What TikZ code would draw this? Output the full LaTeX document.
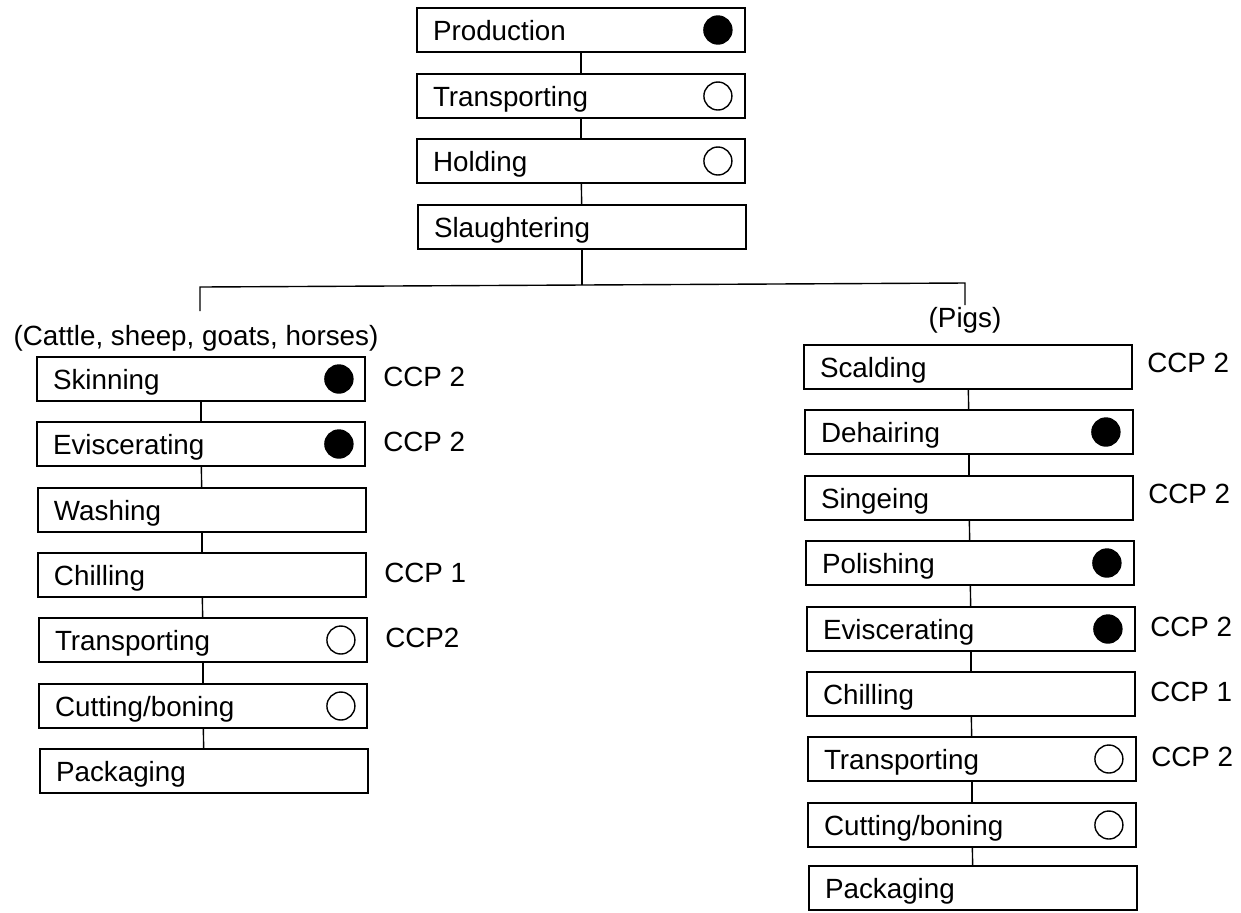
\documentclass[tikz,border=0pt]{standalone}
\usepackage{fontspec}
\setmainfont{Liberation Sans}
\usetikzlibrary{calc}
\begin{document}
\begin{tikzpicture}[x=0.5pt,y=-0.5pt,
  stepbox/.style={draw,line width=0.9pt,minimum height=22pt,inner xsep=8pt,inner ysep=1pt,
    text width=148pt,text height=10.5pt,text depth=0pt,align=left,font=\fontsize{13.9}{16}\selectfont},
  link/.style={line width=0.7pt},
  fulldot/.style={circle,fill=black,draw=black,line width=0.7pt,minimum size=14pt,inner sep=0pt},
  opendot/.style={circle,draw=black,line width=0.7pt,minimum size=14pt,inner sep=0pt},
  ccp/.style={anchor=west,inner sep=0pt,font=\fontsize{13.9}{16}\selectfont},
  group/.style={inner sep=0pt,font=\fontsize{13.9}{16}\selectfont}]
\useasboundingbox (0,0) rectangle (1241,912);
\fill[white] (0,0) rectangle (1241,912);

% common trunk
\node[stepbox] (prod)  at (581,30)  {Production};
\node[stepbox] (trans) at (581,96)  {Transporting};
\node[stepbox] (hold)  at (581,161) {Holding};
\node[stepbox] (slau)  at (582,227) {Slaughtering};
\node[fulldot] (dprod)  at ($(prod.east)+(-28,0)$) {};
\node[opendot] (dtrans) at ($(trans.east)+(-28,0)$) {};
\node[opendot] (dhold)  at ($(hold.east)+(-28,0)$) {};
\draw[link] (prod) -- (trans);
\draw[link] (trans) -- (hold);
\draw[link] (hold) -- (slau);

% branching
\coordinate (jM) at (582,285);
\coordinate (jL) at (200,287);
\coordinate (jR) at (965,283);
\coordinate (eL) at (200,311);
\coordinate (eR) at (965,305);
\draw[link] (slau.south) -- (jM);
\draw[link] (eL) -- (jL) -- (jR) -- (eR);

\node[group] (gL) at (196,338) {(Cattle, sheep, goats, horses)};
\node[group] (gR) at (965,320) {(Pigs)};

% cattle, sheep, goats, horses
\node[stepbox] (l1) at (201,379) {Skinning};
\node[stepbox] (l2) at (201,444) {Eviscerating};
\node[stepbox] (l3) at (202,510) {Washing};
\node[stepbox] (l4) at (202,575) {Chilling};
\node[stepbox] (l5) at (203,640) {Transporting};
\node[stepbox] (l6) at (203,706) {Cutting/boning};
\node[stepbox] (l7) at (204,771) {Packaging};
\draw[link] (l1) -- (l2);
\draw[link] (l2) -- (l3);
\draw[link] (l3) -- (l4);
\draw[link] (l4) -- (l5);
\draw[link] (l5) -- (l6);
\draw[link] (l6) -- (l7);
\node[fulldot] (dl1) at ($(l1.east)+(-27,0)$) {};
\node[fulldot] (dl2) at ($(l2.east)+(-27,0)$) {};
\node[opendot] (dl5) at ($(l5.east)+(-27,0)$) {};
\node[opendot] (dl6) at ($(l6.east)+(-27,0)$) {};
\node[ccp] (cl1) at ($(l1.east)+(17,-2)$) {CCP 2};
\node[ccp] (cl2) at ($(l2.east)+(17,-2)$) {CCP 2};
\node[ccp] (cl4) at ($(l4.east)+(17,-2)$) {CCP 1};
\node[ccp] (cl5) at ($(l5.east)+(17,-2)$) {CCP2};

% pigs
\node[stepbox] (r1) at (968,367) {Scalding};
\node[stepbox] (r2) at (969,432) {Dehairing};
\node[stepbox] (r3) at (969,498) {Singeing};
\node[stepbox] (r4) at (970,563) {Polishing};
\node[stepbox] (r5) at (971,629) {Eviscerating};
\node[stepbox] (r6) at (971,694) {Chilling};
\node[stepbox] (r7) at (972,759) {Transporting};
\node[stepbox] (r8) at (972,825) {Cutting/boning};
\node[stepbox] (r9) at (973,888) {Packaging};
\draw[link] (r1) -- (r2);
\draw[link] (r2) -- (r3);
\draw[link] (r3) -- (r4);
\draw[link] (r4) -- (r5);
\draw[link] (r5) -- (r6);
\draw[link] (r6) -- (r7);
\draw[link] (r7) -- (r8);
\draw[link] (r8) -- (r9);
\node[fulldot] (dr2) at ($(r2.east)+(-28,0)$) {};
\node[fulldot] (dr4) at ($(r4.east)+(-28,0)$) {};
\node[fulldot] (dr5) at ($(r5.east)+(-28,0)$) {};
\node[opendot] (dr7) at ($(r7.east)+(-28,0)$) {};
\node[opendot] (dr8) at ($(r8.east)+(-28,0)$) {};
\node[ccp] (cr1) at ($(r1.east)+(14,-4)$) {CCP 2};
\node[ccp] (cr3) at ($(r3.east)+(14,-4)$) {CCP 2};
\node[ccp] (cr5) at ($(r5.east)+(14,-2)$) {CCP 2};
\node[ccp] (cr6) at ($(r6.east)+(14,-2)$) {CCP 1};
\node[ccp] (cr7) at ($(r7.east)+(14,-2)$) {CCP 2};
\end{tikzpicture}
\end{document}
